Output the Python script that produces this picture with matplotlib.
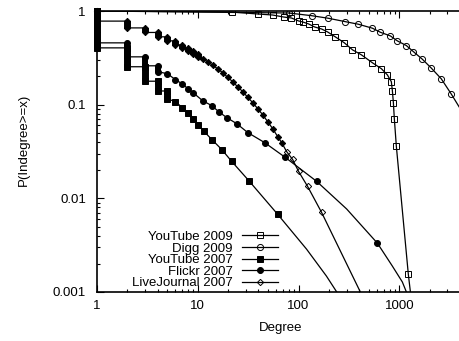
import matplotlib
matplotlib.use("Agg")
import matplotlib.pyplot as plt
from matplotlib.lines import Line2D
from matplotlib.ticker import FuncFormatter, NullFormatter

plt.rcParams['font.family'] = ['Liberation Sans', 'DejaVu Sans']
plt.rcParams['font.size'] = 9.5

# low degrees: one entry per degree, P(>=d) for d = 1 .. last+1
# (many nodes share a degree, so the points stack into a vertical bar)
# mark: 1 = marker as in legend, 2 = filled (overlapping markers), 0 = line only

# YouTube 2009 - open squares
yt09_step_deg = [1]
yt09_step_p = [1.0, 1.0]
yt09_deg = [21.7, 39.3, 55.3, 71, 85, 100, 110, 126, 144, 169, 194, 232, 285,
            343, 421, 541, 664, 761, 833, 853, 873, 892, 934, 1228, 1320]
yt09_p = [0.976, 0.929, 0.906, 0.863, 0.842, 0.783, 0.764, 0.727, 0.676, 0.643,
          0.598, 0.529, 0.457, 0.385, 0.340, 0.280, 0.242, 0.208, 0.176, 0.141,
          0.105, 0.071, 0.036, 0.00155, 0.0008]
yt09_mark = [1] * 24 + [0]

# Digg 2009 - open circles
digg_step_deg = [1]
digg_step_p = [1.0, 1.0]
digg_deg = [80, 135, 198, 292, 393, 541, 648, 815, 955, 1173, 1376, 1690, 2074,
            2606, 3275, 4900]
digg_p = [0.952, 0.891, 0.836, 0.769, 0.722, 0.655, 0.593, 0.542, 0.480, 0.428,
          0.369, 0.306, 0.246, 0.189, 0.130, 0.064]
digg_mark = [1] * 15 + [0]

# YouTube 2007 - filled squares
yt07_step_deg = [1, 2, 3, 4, 5]
yt07_step_p = [1.0, 0.404, 0.254, 0.178, 0.140, 0.115]
yt07_deg = [6, 7, 8, 9, 10, 11.5, 13.8, 17.3, 21.7, 32, 62, 120, 189, 250]
yt07_p = [0.108, 0.093, 0.082, 0.071, 0.061, 0.052, 0.0424, 0.0332, 0.0248,
          0.0155, 0.00676, 0.00287, 0.00148, 0.00093]
yt07_mark = [1] * 11 + [0, 0, 0]

# Flickr 2007 - filled circles
fl_step_deg = [1, 2, 3, 4]
fl_step_p = [1.0, 0.457, 0.324, 0.26, 0.225]
fl_deg = [5, 6, 7, 8, 9, 11.2, 13.8, 16.1, 19.4, 24.3, 31.3, 46, 74, 151, 300,
          606, 853, 1071, 1250]
fl_p = [0.214, 0.185, 0.167, 0.148, 0.134, 0.110, 0.0976, 0.0843, 0.0727, 0.0628,
        0.0504, 0.0394, 0.0273, 0.0152, 0.0077, 0.00332, 0.00189, 0.00128, 0.00085]
fl_mark = [1] * 14 + [0, 1, 0, 0, 0]

# LiveJournal 2007 - open diamonds
lj_step_deg = [1, 2, 3, 4, 5, 6, 7, 8, 9, 10]
lj_step_p = [1.0, 0.78, 0.66, 0.59, 0.53, 0.48, 0.435, 0.40, 0.37, 0.345, 0.32]
lj_deg = [11.2, 12.6, 14.1, 15.8, 17.7, 19.8, 22.2, 24.9, 27.9, 31.3, 35.1, 39.3,
          44.0, 49.3, 55.3, 62.0, 67.9, 76.1, 87.3, 100, 123, 169, 420]
lj_p = [0.309, 0.287, 0.263, 0.241, 0.219, 0.196, 0.176, 0.155, 0.138, 0.120,
        0.105, 0.0907, 0.0783, 0.0660, 0.0556, 0.0457, 0.0394, 0.0316, 0.0260,
        0.0194, 0.0134, 0.0071, 0.00095]
lj_mark = [2] * 17 + [1] * 5 + [0]


def stairs(deg, pge):
    xs, ys = [], []
    for d, top, bot in zip(deg, pge[:-1], pge[1:]):
        xs += [d, d]
        ys += [top, bot]
    return xs, ys


fig = plt.figure(figsize=(4.6, 3.41), dpi=100)
ax = fig.add_axes([97 / 460, 49 / 341, 363 / 460, 281 / 341])
ax.set_xscale('log')
ax.set_yscale('log')


def draw(step_deg, step_p, deg, p, mark, marker, ms, mfc, bar_w):
    sx, sy = stairs(step_deg, step_p)
    ax.plot(sx + deg, sy + p, '-', color='k', lw=0.9, zorder=2)
    ax.vlines(step_deg, step_p[1:], step_p[:-1], color='k', lw=bar_w, zorder=3,
              clip_on=False)
    ax.plot(sx, sy, linestyle='none', marker=marker, ms=ms, mfc='k',
            mec='k', mew=0.7, zorder=3, clip_on=False)
    for code, face in [(1, mfc), (2, 'k')]:
        mx = [d for d, m in zip(deg, mark) if m == code]
        my = [v for v, m in zip(p, mark) if m == code]
        ax.plot(mx, my, linestyle='none', marker=marker, ms=ms, mfc=face,
                mec='k', mew=0.7, zorder=3)
    return Line2D([], [], color='k', lw=0.9, marker=marker, ms=ms, mfc=mfc,
                  mec='k', mew=0.7)


handles = [
    draw(yt09_step_deg, yt09_step_p, yt09_deg, yt09_p, yt09_mark, 's', 4.7, 'none', 5),
    draw(digg_step_deg, digg_step_p, digg_deg, digg_p, digg_mark, 'o', 4.4, 'none', 4.4),
    draw(yt07_step_deg, yt07_step_p, yt07_deg, yt07_p, yt07_mark, 's', 5, 'k', 5),
    draw(fl_step_deg, fl_step_p, fl_deg, fl_p, fl_mark, 'o', 4.3, 'k', 4.3),
    draw(lj_step_deg, lj_step_p, lj_deg, lj_p, lj_mark, 'D', 3.2, 'none', 5),
]
labels = ['YouTube 2009', 'Digg 2009', 'YouTube 2007', 'Flickr 2007', 'LiveJournal 2007']

ax.set_xlim(1, 4000)
ax.set_ylim(0.001, 1)

fmt = FuncFormatter(lambda v, pos: '%g' % v)
ax.xaxis.set_major_formatter(fmt)
ax.yaxis.set_major_formatter(fmt)
ax.xaxis.set_minor_formatter(NullFormatter())
ax.yaxis.set_minor_formatter(NullFormatter())
ax.tick_params(which='both', direction='in', top=True, right=False, width=0.8)
ax.tick_params(which='major', length=5)
ax.tick_params(which='minor', length=2.5)
ax.tick_params(axis='y', pad=8)
ax.tick_params(axis='x', pad=6)
for s in ['left', 'bottom', 'top']:
    ax.spines[s].set_linewidth(1.2)
ax.spines['right'].set_visible(False)

ax.set_xlabel('Degree')
ax.set_ylabel('P(Indegree>=x)')
ax.xaxis.set_label_coords(0.507, -0.105)
ax.yaxis.set_label_coords(-0.185, 0.54)

ax.legend(handles, labels, loc='lower right', bbox_to_anchor=(0.505, 0.0),
          frameon=False, markerfirst=False, handlelength=2.7,
          handletextpad=0.7, labelspacing=-0.05, borderpad=0.2,
          borderaxespad=0.0)

fig.savefig('out.png', dpi=100)
